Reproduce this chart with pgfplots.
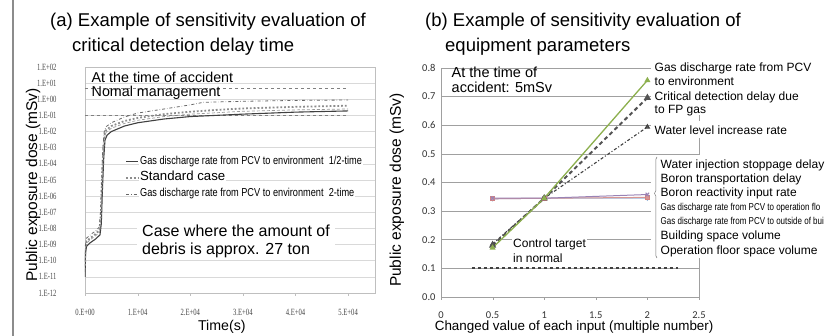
\documentclass[border=0pt]{standalone}
\usepackage{pgfplots}
\pgfplotsset{compat=1.18}
\usepackage{fontspec}
\setmainfont{Liberation Sans}
\newfontfamily\narrow[FakeStretch=0.8]{Liberation Sans}
\newfontfamily\serifnarrow[FakeStretch=0.7]{Liberation Serif}
\newfontfamily\calfont{Carlito}
\usetikzlibrary{decorations.pathreplacing}
\definecolor{exgreen}{HTML}{8DB04F}
\definecolor{dk}{HTML}{404040}
\definecolor{ltgrid}{HTML}{D9D9D9}
\definecolor{ltbox}{HTML}{BFBFBF}
\definecolor{midgrid}{HTML}{A0A0A0}
\definecolor{expurple}{HTML}{8064A2}
\definecolor{exblue}{HTML}{95B3D7}
\definecolor{exsalmon}{HTML}{D99694}
\definecolor{exred}{HTML}{C0504D}
\begin{document}
\begin{tikzpicture}[x=1pt,y=1pt]
\useasboundingbox (0,0) rectangle (827,336);
\draw[black!45, line width=1.2pt] (13,0) -- (13,336);
% titles
\node[anchor=base west, inner sep=0] at (50,309.3) {\fontsize{18.5}{22}\selectfont (a) Example of sensitivity evaluation of};
\node[anchor=base west, inner sep=0] at (72,284.3) {\fontsize{18.5}{22}\selectfont critical detection delay time};
\node[anchor=base west, inner sep=0] at (425,309.3) {\fontsize{18.5}{22}\selectfont (b) Example of sensitivity evaluation of};
\node[anchor=base west, inner sep=0] at (445,284.3) {\fontsize{18.5}{22}\selectfont equipment parameters};

% ---------------- left axis ----------------
\begin{axis}[
  at={(85pt,43pt)}, anchor=south west, scale only axis,
  width=290pt, height=226pt,
  xmin=0, xmax=55100, ymode=log, ymin=1e-12, ymax=1e2,
  axis line style={ltbox},
  ymajorgrids, grid style={ltgrid, line width=0.6pt},
  ytick={1e-12,1e-11,1e-10,1e-9,1e-8,1e-7,1e-6,1e-5,1e-4,1e-3,1e-2,1e-1,1,1e1,1e2},
  yticklabels={1.E-12,1.E-11,1.E-10,1.E-09,1.E-08,1.E-07,1.E-06,1.E-05,1.E-04,1.E-03,1.E-02,1.E-01,1.E+00,1.E+01,1.E+02},
  yminorticks=false,
  xtick={0,10000,20000,30000,40000,50000},
  xticklabels={0.E+00,1.E+04,2.E+04,3.E+04,4.E+04,5.E+04},
  scaled x ticks=false,
  tick label style={font=\serifnarrow\fontsize{9.5}{10}\selectfont, text=black!72},
  yticklabel style={xshift=-22pt},
  xticklabel style={yshift=-9.5pt},
  ytick style={draw=none},
  xtick style={draw=ltbox}, xtick pos=left, tick align=outside, major tick length=3pt,
  xlabel={Time(s)},
  xlabel style={at={(axis description cs:0.472,-0.15)}, anchor=center, font=\fontsize{14.2}{16}\selectfont},
  ylabel={Public exposure dose (mSv)},
  ylabel style={at={(axis description cs:-0.179,0.478)}, anchor=center, font=\fontsize{15.5}{17}\selectfont},
  legend style={at={(axis description cs:0.128,0.625)}, anchor=north west, draw=none, fill=none,
    nodes={fill=white, inner sep=1pt, text height=10pt, text depth=4pt},
    legend image code/.code={\draw[#1] (0pt,0pt) -- (12pt,0pt);}},
  legend cell align=left,
]
\addplot[black!50, dashed, line width=0.8pt, forget plot] coordinates {(0,5) (50000,5)};
\addplot[black!50, dashed, line width=0.8pt, forget plot] coordinates {(0,0.1) (50000,0.1)};
% extra intermediate curve
\addplot[black!40, densely dashed, line width=0.7pt, forget plot] coordinates {
(0,2e-11)(100,5e-10)(300,1.2e-9)(1000,2e-9)(2000,3.5e-9)(2800,6e-9)(3050,4e-8)(3250,4e-6)(3500,4e-4)(3750,4.5e-3)(4000,9e-3)(5000,1.6e-2)(7500,3.2e-2)(10000,5e-2)(15000,8.5e-2)(20000,0.12)(30000,0.18)(40000,0.22)(50000,0.25)};
\addplot[dk, line width=1.1pt] coordinates {
(0,1e-11)(100,3e-10)(300,8e-10)(1000,1.3e-9)(2000,2.2e-9)(2850,4e-9)(3100,2e-8)(3300,2e-6)(3550,2e-4)(3800,3e-3)(4200,6e-3)(5000,1e-2)(7500,2.2e-2)(10000,3.5e-2)(15000,6e-2)(20000,8.5e-2)(30000,0.12)(40000,0.16)(50000,0.19)};
\addlegendentry{\narrow\fontsize{11.5}{12}\selectfont Gas discharge rate from PCV to environment\ \ 1/2-time}
\addplot[black!45, dotted, line width=1.8pt] coordinates {
(0,5e-11)(100,7e-10)(300,1.6e-9)(1000,2.5e-9)(2000,4.5e-9)(2750,8e-9)(3000,6e-8)(3200,6e-6)(3450,6e-4)(3700,6e-3)(4000,1.2e-2)(5000,2.2e-2)(7500,4.5e-2)(10000,7e-2)(15000,0.12)(20000,0.17)(25000,0.22)(30000,0.27)(40000,0.34)(50000,0.4)};
\addlegendentry{\fontsize{13.2}{14}\selectfont Standard case}
\addplot[black!60, dash dot, line width=0.8pt] coordinates {
(0,1e-10)(100,1e-9)(300,2.5e-9)(1000,4e-9)(2000,7e-9)(2700,1.2e-8)(2950,1e-7)(3150,1e-5)(3400,1e-3)(3650,1e-2)(4000,2e-2)(5000,3.5e-2)(7500,8e-2)(10000,0.14)(15000,0.25)(20000,0.45)(22500,0.65)(30000,0.75)(40000,0.85)(50000,0.9)};
\addlegendentry{\narrow\fontsize{11.5}{12}\selectfont Gas discharge rate from PCV to environment\ \ 2-time}
\end{axis}

\node[anchor=west, inner sep=0.5pt] at (91,259) {\fontsize{14.3}{16}\selectfont At the time of accident};
\node[anchor=west, inner sep=0.5pt] at (91,243) {\fontsize{14.3}{16}\selectfont Nomal management};
\node[anchor=west, align=left, fill=white, inner xsep=5pt, inner ysep=3pt, font=\fontsize{16}{18}\selectfont] at (137,95)
  {Case where the amount of\\debris is approx. 27 ton};

% ---------------- right axis ----------------
\begin{axis}[
  at={(441pt,39pt)}, anchor=south west, scale only axis,
  width=258pt, height=229pt,
  xmin=0, xmax=2.5, ymin=0, ymax=0.8,
  axis line style={midgrid},
  ymajorgrids, grid style={midgrid, line width=0.6pt},
  xtick={0,0.5,1,1.5,2,2.5},
  xticklabels={0,0.5,1,1.5,2,2.5},
  ytick={0,0.1,0.2,0.3,0.4,0.5,0.6,0.7,0.8},
  yticklabels={0.0,0.1,0.2,0.3,0.4,0.5,0.6,0.7,0.8},
  tick label style={font=\calfont\fontsize{10.5}{12}\selectfont, text=black!80},
  yticklabel style={xshift=1pt},
  xticklabel style={yshift=-8pt},
  ytick style={draw=none},
  xtick style={draw=midgrid}, xtick pos=left, tick align=outside, major tick length=3pt,
  xlabel={Changed value of each input (multiple number)},
  xlabel style={at={(axis description cs:0.516,-0.131)}, anchor=center, font=\fontsize{13.4}{15}\selectfont},
  ylabel={Public exposure dose (mSv)},
  ylabel style={at={(axis description cs:-0.171,0.467)}, anchor=center, font=\fontsize{15.5}{17}\selectfont},
]
\addplot[dk, line width=1.8pt, dash pattern=on 3.5pt off 2.5pt] coordinates {(0.3,0.1) (2.3,0.1)};
\addplot[exblue, line width=1pt, mark=diamond*, mark size=2pt, mark options={solid, fill=exblue}] coordinates {(0.5,0.343) (1,0.345) (2,0.345)};
\addplot[exsalmon, line width=1pt, mark=square*, mark size=2pt, mark options={solid, fill=exsalmon, draw=exred!70}] coordinates {(0.5,0.343) (1,0.345) (2,0.348)};
\addplot[expurple!80, line width=1pt, mark=x, mark size=2.5pt, mark options={solid}] coordinates {(0.5,0.345) (1,0.345) (2,0.358)};
\addplot[dk, line width=1.1pt, dash dot, mark=triangle*, mark size=2.2pt, mark options={solid, fill=dk!80}] coordinates {(0.5,0.185) (1,0.345) (2,0.594)};
\addplot[dk!90, line width=2pt, dash pattern=on 4pt off 3pt, mark=triangle*, mark size=2.2pt, mark options={solid, fill=dk}] coordinates {(0.5,0.18) (1,0.345) (2,0.696)};
\addplot[exgreen, line width=1.3pt, mark=triangle*, mark size=2.2pt, mark options={solid, fill=exgreen}] coordinates {(0.5,0.172) (1,0.345) (2,0.757)};
\end{axis}

% white label areas covering the grid on the right
\fill[white] (651,221) rectangle (827,276);
\fill[white] (651,198) rectangle (827,215);
\fill[white] (651,78) rectangle (827,181);

\node[anchor=west, align=left, inner sep=0.5pt, font=\fontsize{14.5}{15}\selectfont] at (451,256.5) {At the time of\\accident: 5mSv};
\node[anchor=west, align=left, fill=white, inner sep=1pt, font=\fontsize{12}{15}\selectfont] at (512,85.5) {Control target\\in normal};

\begin{scope}[every node/.style={anchor=west, inner sep=0.5pt, font=\fontsize{12}{13}\selectfont}]
\node at (654,268) {Gas discharge rate from PCV};
\node at (654,255) {to environment};
\node at (654,239) {Critical detection delay due};
\node at (654,225) {to FP gas};
\node at (654,206) {Water level increase rate};
\node at (660,171) {Water injection stoppage delay};
\node at (660,157) {Boron transportation delay};
\node at (660,143) {Boron reactivity input rate};
\node at (660,128) {\narrow\fontsize{10}{12}\selectfont Gas discharge rate from PCV to operation flo};
\node at (660,114) {\narrow\fontsize{10}{12}\selectfont Gas discharge rate from PCV to outside of bui};
\node at (660,100) {Building space volume};
\node at (660,85) {Operation floor space volume};
\end{scope}
\draw[black!55, line width=0.5pt, decorate, decoration={brace, amplitude=2.5pt, aspect=0.64}] (657,78) -- (657,179);
\end{tikzpicture}
\end{document}
